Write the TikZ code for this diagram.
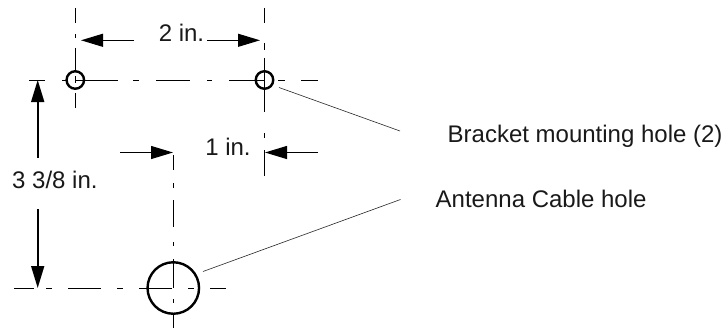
\documentclass[tikz,border=0pt]{standalone}
\usepackage{fontspec}
\setmainfont{Liberation Sans}
\usetikzlibrary{arrows.meta}
\tikzset{
  x=1pt,y=-1pt,
  center/.style={line width=0.9pt,black},
  hole/.style={circle,draw=black,line width=2.4pt,inner sep=0pt,fill=none},
  dim/.style={line width=1.1pt,-{Triangle[length=22pt,width=13pt]},shorten >=0pt},
  lead/.style={line width=0.6pt,black!85},
  lbl/.style={inner sep=0pt,font=\fontsize{24}{26}\selectfont,text=black!90}
}
\begin{document}
\begin{tikzpicture}
\useasboundingbox (0,0) rectangle (725,329);
% centre lines
\foreach \a/\b in {8/23,34/38,48/70,76/83,93/108}{\draw[center] (75.3,\a)--(75.3,\b);}
\foreach \a/\b in {8/23,43/50,58/112,133/138,150/176}{\draw[center] (264.5,\a)--(264.5,\b);}
\foreach \a/\b in {155/170,183/188,200/227,242/246,259/288,299/303,315/328}{\draw[center] (173.3,\a)--(173.3,\b);}
\foreach \a/\b in {29/45,62/67,75/118,133/139,156/190,207/212,229/264,278/285,301/318}{\draw[center] (\a,80)--(\b,80);}
\foreach \a/\b in {14/34,46/52,68/101,117/123,139/172,188/194,210/226}{\draw[center] (\a,288)--(\b,288);}
% holes
\node[hole,minimum size=17.5pt] (h1) at (75.3,80) {};
\node[hole,minimum size=51.5pt] (h2x) at (173.3,288) {};
\node[hole,minimum size=17.5pt] (h2) at (264.5,80) {};
% dimensions
\coordinate (a1t) at (134,40.3); \coordinate (a1h) at (81,40.3);
\coordinate (a2t) at (207,40.3); \coordinate (a2h) at (260,40.3);
\coordinate (a3t) at (120,152.5); \coordinate (a3h) at (173,152.5);
\coordinate (a4t) at (318,152.5); \coordinate (a4h) at (265,152.5);
\coordinate (a5t) at (37.7,157.5); \coordinate (a5h) at (37.7,80);
\coordinate (a6t) at (37.7,209); \coordinate (a6h) at (37.7,288);
\foreach \n in {1,2,3,4}{\draw[dim] (a\n t)--(a\n h);}
\foreach \n in {5,6}{\draw[dim,line width=1.6pt] (a\n t)--(a\n h);}
% labels
\node[lbl,anchor=center] (t2) at (181.5,33) {2 in.};
\node[lbl,anchor=center] (t1) at (228,147) {1 in.};
\node[lbl,anchor=west] (t3) at (12,180) {3 3/8 in.};
\node[lbl,anchor=west] (tb) at (447.5,136) {Bracket mounting hole (2)};
\node[lbl,anchor=west] (ta) at (435.5,199) {Antenna Cable hole};
% leaders
\coordinate (l1e) at (400,131); \coordinate (l2e) at (400.5,199.5);
\draw[lead] (279,87.5)--(l1e);
\draw[lead] (203,271.5)--(l2e);
\end{tikzpicture}
\end{document}
